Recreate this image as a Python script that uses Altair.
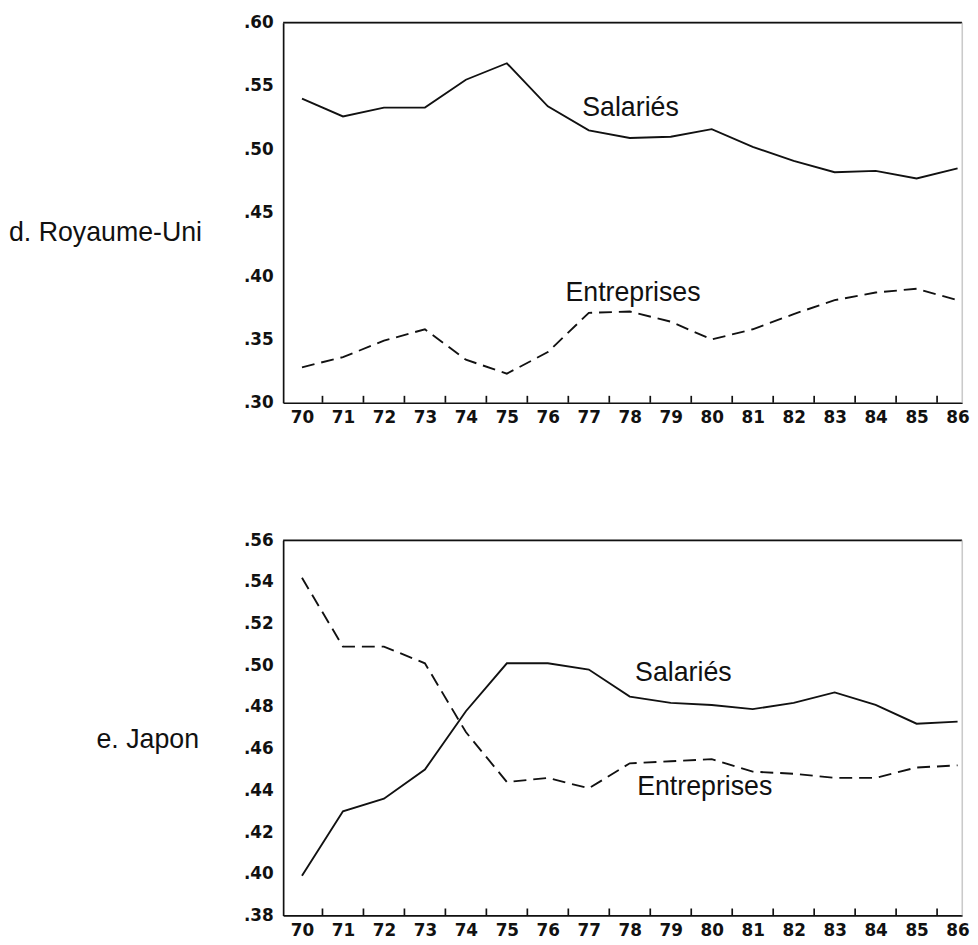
import altair as alt
import pandas as pd

years = list(range(70, 87))
uk_salaries = [0.540, 0.526, 0.533, 0.533, 0.555, 0.568, 0.534, 0.515, 0.509,
               0.510, 0.516, 0.502, 0.491, 0.482, 0.483, 0.477, 0.485]
uk_entreprises = [0.328, 0.336, 0.349, 0.358, 0.334, 0.323, 0.340, 0.371, 0.372,
                  0.364, 0.350, 0.358, 0.370, 0.381, 0.387, 0.390, 0.381]
jp_salaries = [0.399, 0.430, 0.436, 0.450, 0.478, 0.501, 0.501, 0.498, 0.485,
               0.482, 0.481, 0.479, 0.482, 0.487, 0.481, 0.472, 0.473]
jp_entreprises = [0.542, 0.509, 0.509, 0.501, 0.468, 0.444, 0.446, 0.441, 0.453,
                  0.454, 0.455, 0.449, 0.448, 0.446, 0.446, 0.451, 0.452]

uk_yticks = [0.30, 0.35, 0.40, 0.45, 0.50, 0.55, 0.60]
jp_yticks = [0.38, 0.40, 0.42, 0.44, 0.46, 0.48, 0.50, 0.52, 0.54, 0.56]

series_labels = ["Salariés", "Entreprises"]

INK = "#111111"
W = 686
X_DOMAIN = [69.54, 86.11]


def panel(sal, ent, yticks, H, label, label_x, label_align, label_y, ann_years, ann_values):
    x = alt.X(
        "year:Q",
        scale=alt.Scale(domain=X_DOMAIN, nice=False, zero=False),
        axis=alt.Axis(values=years, format="d", title=None, ticks=False, grid=False,
                      labelPadding=7, labelFont="DejaVu Sans", labelFontWeight="bold",
                      labelFontSize=17, labelColor=INK, domainColor=INK, domainWidth=1.7,
                      labelOverlap=False, labelFlush=False, labelBound=False),
    )
    y = alt.Y(
        "value:Q",
        scale=alt.Scale(domain=[yticks[0], yticks[-1]], nice=False, zero=False),
        axis=alt.Axis(values=yticks, title=None, ticks=False, grid=False,
                      labelExpr="replace(format(datum.value, '.2f'), '0.', '.')",
                      labelPadding=10, labelFont="DejaVu Sans", labelFontWeight="bold",
                      labelFontSize=17, labelColor=INK, domainColor=INK, domainWidth=1.7,
                      labelOverlap=False, labelFlush=False, labelBound=False),
    )
    df_sal = pd.DataFrame({"year": years, "value": sal})
    df_ent = pd.DataFrame({"year": years, "value": ent})
    df_ticks = pd.DataFrame({"year": [yr + 0.5 for yr in years[:-1]]})
    df_ann = pd.DataFrame({"year": ann_years, "value": ann_values, "text": series_labels})
    one = pd.DataFrame({"a": [0]})

    sal_line = alt.Chart(df_sal).mark_line(color=INK, strokeWidth=1.9).encode(x=x, y=y)
    ent_line = alt.Chart(df_ent).mark_line(color=INK, strokeWidth=1.9, strokeDash=[13, 7]).encode(x=x, y=y)
    ticks = alt.Chart(df_ticks).mark_rule(color=INK, strokeWidth=1.7).encode(
        x=x, y=alt.value(H), y2=alt.value(H - 7))
    top_border = alt.Chart(one).mark_rule(color=INK, strokeWidth=1.7).encode(
        x=alt.value(0), x2=alt.value(W), y=alt.value(0))
    right_border = alt.Chart(one).mark_rule(color="#bbbbbb", strokeWidth=1).encode(
        x=alt.value(W), y=alt.value(0), y2=alt.value(H))
    ann = alt.Chart(df_ann).mark_text(align="left", baseline="alphabetic", font="Liberation Sans",
                                      fontSize=27, color=INK).encode(x=x, y=y, text="text:N")
    country = alt.Chart(one).mark_text(align=label_align, baseline="alphabetic", font="Liberation Sans",
                                       fontSize=27, color=INK).encode(
        x=alt.value(label_x), y=alt.value(label_y), text=alt.value(label))
    anchor = alt.Chart(one).mark_text(align="left", baseline="middle", fontSize=10, opacity=0).encode(
        x=alt.value(-277), y=alt.value(H / 2), text=alt.value("."))
    return alt.layer(anchor, top_border, right_border, ticks, sal_line, ent_line, ann, country).properties(
        width=W, height=H)


top = panel(uk_salaries, uk_entreprises, uk_yticks, 384, "d. Royaume-Uni", -277, "left", 221,
            [76.84, 76.43], [0.5263, 0.3805])
bottom = panel(jp_salaries, jp_entreprises, jp_yticks, 379, "e. Japon", -85, "right", 210,
               [78.13, 78.18], [0.4927, 0.4376])

chart = alt.vconcat(top, bottom, spacing=105).properties(
    padding={"left": 0, "top": 0, "right": 0, "bottom": 0}
).configure_view(stroke=None).configure(background="white")

chart.save("out.html", embed_options={"renderer": "svg", "actions": False})
